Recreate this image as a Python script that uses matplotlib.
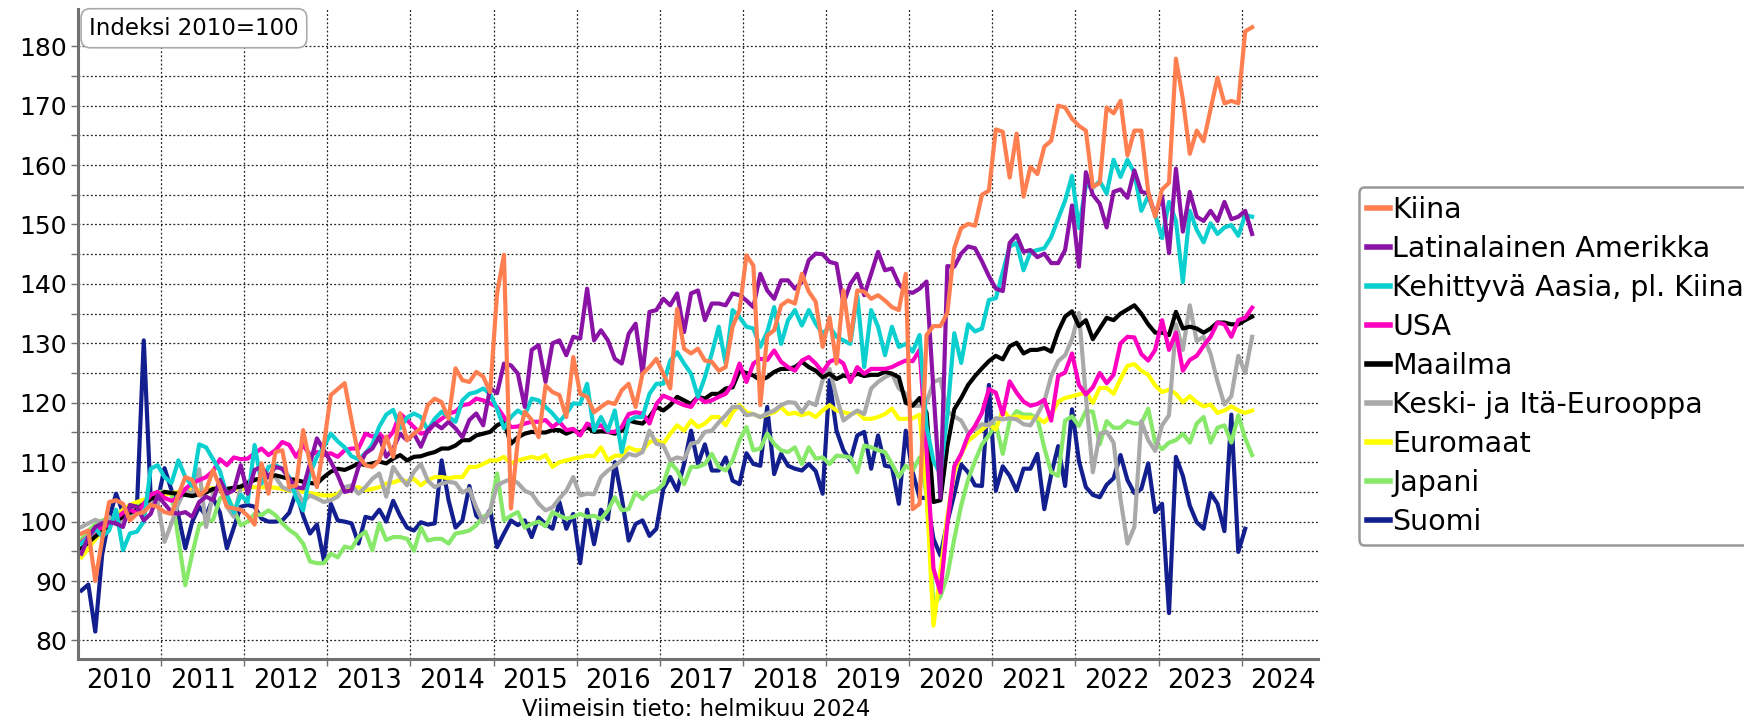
import numpy as np
import matplotlib.pyplot as plt
from matplotlib.lines import Line2D

# monthly index values, 2010-01 .. 2024-02 (Suomi ends 2024-01)
years = list(range(2010, 2025))

kiina = [98, 98.5, 90, 97, 103.3, 103.6, 103, 100.2, 101.3, 101.6, 102.8, 102.5,
         101.6, 101.3, 104.5, 107.5, 107, 104.4, 105.3, 108.7, 105.8, 102.5, 102.2, 102,
         101, 99.5, 109.8, 104.7, 111.7, 112, 105.8, 106.1, 115.4, 109.8, 105.8, 113,
         121.3, 122.3, 123.3, 117, 111, 109.5, 109.2, 110.3, 114.3, 110.9, 118.2, 113.7,
         114.8, 115.7, 119.6, 120.7, 120.1, 117.3, 125.8, 123.8, 123.5, 125.2, 124.4, 121.8,
         138.4, 144.9, 102.2, 113.7, 118.5, 117.1, 114.2, 122.9, 121.8, 121.3, 117.6, 127.7,
         121.5, 121, 118.4, 119.3, 120.1, 119.8, 122.1, 123.2, 119.3, 124.9, 126, 127.4,
         124.9, 122.4, 135.8, 129.1, 128.3, 129.1, 127.1, 126.9, 125.4, 126, 132.8, 135.6,
         144.8, 143.1, 119.6, 131.3, 132.2, 136.4, 137.2, 136.7, 141.7, 138.7, 137, 129.4,
         134.4, 126.6, 138.9, 130.5, 138.9, 138.7, 137.5, 138.1, 137.2, 136.1, 135.6, 141.7,
         102.1, 103, 131.4, 132.9, 132.9, 135.1, 146, 149.4, 150.1, 149.8, 155, 155.7,
         166, 165.6, 157.9, 165.3, 154.7, 159.7, 158.5, 163.1, 164.1, 170, 169.7, 167.8,
         166.6, 165.8, 156.3, 157, 169.7, 168.7, 170.8, 161.6, 165.8, 165.8, 155.5, 151.3,
         155.9, 157, 177.9, 171.1, 161.9, 165.8, 164, 169.4, 174.7, 170.4, 170.8, 170.4,
         182.5, 183.2]

lat_am = [94.6, 97.4, 99.1, 99.7, 99.9, 99.7, 99.1, 102.8, 102.5, 100.2, 101.3, 104.4,
          103, 101.6, 101.3, 101.6, 100.8, 103.3, 104.2, 103.6, 107, 104.7, 105.3, 109.5,
          104.7, 108.7, 109.2, 107.5, 109.2, 108.9, 107.2, 105.8, 105.6, 109.8, 114, 112,
          110.1, 107.8, 105, 105.3, 109.2, 111.5, 112.3, 114.3, 110.9, 112.3, 114.8, 113.7,
          114.8, 112.6, 115.4, 116.5, 115.7, 116.8, 115.7, 114.2, 117.1, 118.2, 116.2, 122.5,
          121.6, 126.6, 126.3, 124.9, 119.3, 128.9, 129.7, 123.5, 130, 130.5, 128, 131.1,
          130.8, 139.2, 130.5, 132.2, 130.5, 127.4, 126.6, 131.6, 133.3, 124.9, 135.3, 135.6,
          137.5, 136.4, 138.4, 131.9, 138.4, 138.9, 133.9, 136.7, 136.7, 136.4, 138.4, 138.1,
          137.2, 136.1, 141.7, 138.9, 137.5, 140.6, 140.6, 139.2, 140.3, 144, 145.1, 145,
          143.7, 143.4, 136.7, 140, 141.7, 138.1, 141.7, 145.4, 142.3, 142.6, 140, 138.7,
          138.5, 139.2, 140.4, 122, 104, 143, 142.9, 145.1, 146.3, 146, 143.8, 141.3,
          139.2, 138.8, 146.9, 148.2, 145.4, 145.7, 144.5, 145.1, 143.5, 143.5, 145.7, 153.2,
          142.9, 158.8, 155, 153.5, 149.5, 155.5, 155.9, 154.5, 159.1, 155.5, 155.2, 151.6,
          154.8, 145.2, 159.4, 148.8, 155.5, 151.3, 150.6, 152.3, 150.6, 153.8, 150.9, 151.3,
          152.3, 148.4]

aasia = [96.3, 97.4, 98.8, 97.5, 98.5, 102, 95.2, 98, 98.3, 100, 108.9, 109.5,
         107.5, 106.5, 110.3, 107.5, 106, 113, 112.5, 110.5, 108.5, 104.5, 101.5, 104.5,
         103.3, 112.9, 106.4, 109.2, 109.5, 108.9, 107.5, 104, 101.9, 108.1, 110.9, 112.6,
         114.8, 113.5, 112.5, 111, 110.5, 111.5, 113, 116, 118, 118.8, 115.7, 117.5,
         118.2, 117.6, 115.4, 117.3, 118.5, 117.6, 116.8, 120.4, 121.5, 121.8, 122.4, 121.5,
         119, 115.7, 117.6, 118.7, 117.9, 120.7, 120.4, 119.3, 118.2, 116.8, 118.2, 119.9,
         119.8, 123.2, 115.3, 117.6, 115.3, 118.7, 111.7, 117, 117.6, 117.6, 121.5, 123.2,
         123.2, 127.1, 128.5, 126.6, 124.9, 121, 124.3, 128.3, 132.8, 126.6, 135.6, 134.4,
         132.8, 132.5, 129.4, 131.9, 136.1, 129.9, 133.9, 135.6, 133, 135.6, 133.3, 131.6,
         132.8, 131.1, 130.5, 129.9, 138.1, 126, 135.6, 132.8, 128, 132.8, 129.4, 129.9,
         128.6, 131.4, 116, 110.2, 108, 118, 131.7, 126.7, 133.2, 132, 132.5, 137.3,
         137.6, 142, 146.3, 146.9, 142.3, 145.4, 145.7, 146, 147.9, 151, 154, 158.2,
         149.4, 156.6, 156.2, 157.3, 155.2, 160.9, 158, 160.9, 158.7, 152.3, 154.8, 151.6,
         147.7, 153.8, 150.6, 140.3, 152.3, 149.1, 147, 150.2, 148.4, 149.5, 149.9, 148.1,
         151.6, 151.3]

usa = [96.5, 97.5, 98.5, 99, 99.5, 100.5, 101.5, 102, 101.5, 103, 104.5, 105,
       104, 103.5, 104, 105.5, 106.5, 107, 107.5, 108.5, 110.5, 109.5, 110.8, 110.5,
       110.6, 111.5, 112.3, 111.2, 112, 113.4, 112.9, 110.9, 112.9, 111.2, 111.7, 111.2,
       111.5, 110.9, 112, 112.3, 112.3, 114.8, 114.3, 114.8, 113.7, 115.1, 118.2, 117.1,
       115.9, 114.8, 115.1, 116.5, 117.3, 118.2, 118.5, 119.6, 119.8, 120.7, 120.4, 119.9,
       119.3, 117.6, 115.9, 116, 116.5, 116.8, 116.8, 117.1, 115.9, 116.8, 115.4, 115.6,
       114.5, 116.5, 115.9, 116.2, 115.1, 115.1, 115.9, 118.1, 118.4, 118.2, 116.5, 119.8,
       121.2, 120.7, 120.1, 119.6, 119.3, 121, 120.1, 120.4, 121, 121.5, 123.2, 126.6,
       123.5, 126.6, 127.4, 127.2, 128.8, 126.9, 126, 125.4, 127.1, 127.7, 126.6, 125.2,
       126.9, 127.4, 126.6, 123.5, 126, 124.9, 125.7, 125.7, 125.7, 126, 126.6, 127.1,
       127, 128.9, 112, 92.1, 88.1, 99.6, 109.3, 111.4, 114.5, 116.1, 118.3, 122.3,
       121.7, 118, 123.6, 121.7, 120.2, 119.5, 119.8, 120.5, 117, 124.5, 125.1, 128.3,
       123, 121.4, 122.6, 125, 123.3, 124.7, 130, 131.1, 131, 128.2, 127.1, 128.9,
       133.9, 128.9, 131.8, 125.4, 127.2, 127.9, 129.6, 131.1, 133.5, 133.2, 131.1, 133.9,
       134.3, 136]

maailma = [95.5, 96.5, 97.5, 98.5, 99.5, 100.2, 100.8, 101.5, 102, 103, 103.8, 104.3,
           105, 104.8, 104.7, 104.5, 104.3, 104.6, 104.9, 105.5, 105.6, 105.5, 105.7, 105.9,
           106.5, 107, 107.3, 107.5, 107.8, 107.5, 107.2, 107, 106.7, 106.5, 106.4, 107.5,
           108.4, 108.9, 108.7, 109.2, 109.8, 109.5, 109.8, 110.1, 109.8, 110.6, 111.2, 110.3,
           110.9, 111, 111.4, 111.7, 112.3, 112.3, 112.8, 113.7, 113.7, 114.5, 114.8, 115.1,
           116.2, 116.8, 113.1, 114.2, 114.8, 115.1, 115, 115, 115.4, 115.4, 114.8, 115.3,
           115, 115.9, 115.1, 115.2, 115.1, 114.8, 115.3, 117, 116.7, 116.5, 117.6, 119.3,
           118.7, 119.6, 121, 120.4, 119.8, 121, 120.7, 121.5, 121.5, 122.4, 122.6, 125.4,
           125, 124.6, 123.8, 124.3, 125.2, 125.7, 125.7, 126, 126.9, 126, 125.4, 124.3,
           124.9, 124, 124.6, 124.3, 124.9, 124.5, 124.7, 124.7, 125.2, 124.9, 124.3, 120,
           119.5, 120.8, 118.3, 103.3, 103.6, 112.7, 118.9, 120.8, 123, 124.5, 125.8, 127,
           127.9, 127.3, 129.5, 130.1, 128.3, 128.9, 128.9, 129.2, 128.6, 132, 134.5, 135.4,
           132.9, 133.9, 130.7, 132.5, 134.3, 133.9, 135, 135.7, 136.4, 135, 133.2, 131.8,
           131.8, 131.4, 135.3, 132.5, 132.8, 132.5, 131.8, 132.5, 133.5, 133.5, 133.2, 133.2,
           133.9, 134.5]

kie = [99.1, 99.7, 100.3, 99.8, 100.8, 99.5, 100.3, 101.2, 101.5, 102.3, 103.5, 103.3,
       96.6, 99.7, 103, 105.5, 104.5, 108.8, 99.1, 104.7, 106.5, 102.5, 100.8, 105.8,
       106.7, 107.2, 107, 107.5, 107.5, 105.8, 105.3, 105.3, 103.3, 104.4, 103.9, 103.3,
       103.6, 104.2, 105.8, 106.1, 104.7, 105.8, 107.2, 108.1, 104.2, 109.2, 107.5, 106.1,
       108.4, 109.7, 106.9, 105.8, 106.4, 106.7, 106.5, 104.9, 105.5, 102.4, 99.9, 101.9,
       106.1, 106.7, 107.2, 106.5, 105.2, 104.7, 103, 101.9, 102.4, 103.9, 105.2, 107.5,
       104.4, 104.7, 104.6, 107.5, 108.6, 109.4, 110.3, 111.4, 111.1, 111.7, 115.3, 113.1,
       112.8, 110.3, 110.8, 110.5, 113.1, 113.4, 115.1, 115.3, 116.7, 117.9, 119.3, 119.3,
       117.9, 118.1, 117.6, 118.2, 118.7, 119.6, 120.1, 120, 118.4, 120.1, 119.6, 123.8,
       125.7, 121, 117, 117.9, 118.7, 118.1, 122.4, 123.5, 124.3, 124.9, 122.4, 121.5,
       119.5, 119.5, 120, 123.5, 124, 118.6, 117.7, 117, 114.9, 115.5, 116.4, 116.2,
       117.4, 117.2, 117.4, 117.2, 116.4, 116.2, 118, 120.2, 124.5, 127, 128, 130.7,
       135.1, 121, 108.3, 114.8, 115.1, 113.3, 103.8, 96.3, 99.1, 116.9, 113.7, 111.9,
       116.2, 117.9, 133.2, 128.9, 136.4, 130.4, 131.1, 128.2, 123.6, 119.7, 121.1, 127.9,
       125, 131.1]

euromaat = [94, 95.5, 97, 98.5, 100, 101, 102, 102.8, 103.3, 103.7, 104, 104.2,
            104.5, 104.8, 105, 105.3, 105.5, 105.3, 105.5, 105.6, 105.4, 105.5, 105.6, 105.5,
            105.7, 105.8, 105.8, 105.8, 105.7, 105.5, 105.2, 105.4, 105, 104.8, 104.6, 104.4,
            104.4, 104.6, 105.8, 105.6, 105.8, 105.3, 105.5, 105.8, 106.4, 106.6, 107, 106.8,
            107.2, 106.1, 107, 107.5, 107.5, 107.3, 107.5, 107.5, 109.2, 109.2, 109.7, 110.3,
            110.3, 110.9, 109.8, 110.3, 110.6, 110.9, 110.6, 111.2, 109.2, 110, 110.3, 110.6,
            110.8, 111.1, 111, 112.5, 110.3, 111.1, 111.1, 112.5, 112, 112, 113.4, 113.7,
            113.1, 114.8, 116.2, 115.3, 117, 115.9, 116.5, 117.6, 117.6, 116.2, 118.4, 119.6,
            118.4, 118.1, 117.6, 118, 118.4, 119.3, 118.1, 118.3, 117.9, 118.3, 117.6, 118.7,
            119.6, 118.7, 118.4, 118.1, 118.4, 117.3, 117.3, 117.6, 118.1, 119, 117.3, 117.3,
            117.4, 118, 105, 82.5, 91.5, 100.8, 108.3, 111.4, 113.6, 114.5, 115.5, 116.4,
            115.5, 118.9, 117.4, 117.7, 117.5, 117.5, 117.5, 116.7, 118, 120.2, 120.8, 121.1,
            121.4, 121.7, 120, 122.5, 122.5, 121.5, 124, 126.2, 126.5, 125.4, 124.7, 122.9,
            121.8, 122.2, 121.5, 120.1, 121.1, 120.1, 119.4, 119.7, 118.3, 118.7, 119.4, 118.7,
            118.3, 118.7]

japani = [97, 98.5, 99.5, 100.2, 100.5, 100.2, 100, 101, 102.5, 103.5, 104.5, 105,
          105, 104.8, 97, 89.3, 94.6, 99.4, 100, 100.3, 103.9, 104.5, 102, 99.4,
          100, 101.3, 101.1, 101.9, 101.1, 99.7, 98.6, 97.8, 96.3, 93.3, 93, 93,
          94.6, 94, 95.8, 95.5, 97.4, 98.3, 95.2, 99.7, 96.9, 97.4, 97.4, 97.1,
          95.1, 99, 96.8, 97.1, 97.1, 96.3, 98, 98.2, 98.5, 99.4, 100.8, 101.5,
          108.1, 100.2, 101, 101.6, 99, 99.6, 100, 99.2, 101.6, 101, 100.5, 100.8,
          101.3, 100.8, 101, 100.4, 101.9, 104.1, 101.9, 102.1, 104.9, 103.8, 104.9, 105.2,
          106.3, 110, 108.6, 106.3, 109.2, 109.2, 109.7, 111.4, 109.2, 108.6, 110.3, 113.7,
          115.9, 112, 112.3, 114.8, 113.1, 112, 111.7, 112.5, 109.7, 112.5, 110.6, 110.8,
          109.7, 111.1, 111, 110.8, 108.3, 112.8, 112.5, 112, 111.7, 109.7, 107.5, 109.4,
          108.6, 110.8, 104.6, 85.9, 87.4, 90.9, 97.1, 102.7, 107.1, 110.2, 113, 114.5,
          116.4, 111.4, 117, 118.6, 118, 118, 117.4, 112.4, 108.3, 107.7, 117, 117.7,
          116.1, 118.6, 118.5, 113, 116.9, 115.8, 115.8, 116.9, 116.5, 116.5, 119, 113.3,
          112.2, 113.3, 113.7, 114.8, 113.3, 116.5, 117.6, 113.3, 115.8, 116.2, 113.3, 117.9,
          114, 111.2]

suomi = [88.4, 89.4, 81.5, 94.5, 100.5, 104.7, 101.5, 102.5, 102, 130.5, 104, 103.5,
         109, 105.3, 101, 95.5, 100, 102.5, 101, 104, 101.5, 95.5, 99, 102.5,
         102.8, 102.5, 100.5, 100, 100, 100.2, 101.5, 105, 101, 98, 99.5, 93.5,
         103, 100.2, 100, 99.7, 96.3, 100.8, 100.5, 102, 100, 103.5, 101, 99,
         98.5, 99.9, 99.5, 99.7, 110.3, 103.6, 99, 100.2, 106, 101, 100, 102,
         95.7, 98, 100.2, 99.4, 100.2, 97.4, 100.7, 99.6, 98.8, 103.3, 98.8, 101.3,
         93, 102, 96.2, 102, 100.4, 110, 104, 96.8, 99.6, 100.2, 97.6, 98.8,
         105.5, 107.5, 105.2, 109.7, 115.3, 109.7, 113, 108.6, 108.6, 110.8, 106.9, 106.3,
         111.5, 109.7, 109.4, 119.3, 108, 111.4, 109.4, 108.9, 108.6, 109.7, 108.5, 104.7,
         123.8, 115.3, 112, 110.3, 114.5, 115.1, 108.9, 114.5, 109.4, 109.2, 103, 115.3,
         108.3, 104, 104, 97.1, 94.3, 99.9, 104.6, 109.6, 108.3, 106.1, 106, 123,
         105.2, 109.3, 107.7, 105.2, 108.9, 108.9, 111.4, 102.1, 108, 112.7, 106, 118.9,
         110.2, 105.8, 104.5, 104.1, 106.2, 107.3, 111.2, 107, 104.8, 105.5, 109.8, 101.6,
         103, 84.6, 110.9, 107.7, 102.7, 99.9, 98.8, 104.8, 103, 98.4, 118, 94.9,
         98.8]

labels = ['Kiina', 'Latinalainen Amerikka', 'Kehittyvä Aasia, pl. Kiina', 'USA', 'Maailma',
          'Keski- ja Itä-Eurooppa', 'Euromaat', 'Japani', 'Suomi']
series = [kiina, lat_am, aasia, usa, maailma, kie, euromaat, japani, suomi]
colors = ['#ff7f50', '#8a13a6', '#0ccfd0', '#ff00c0', 'black',
          '#a9a9a9', '#ffff00', '#87e86a', '#131f8e']

fig = plt.figure(figsize=(17.44, 7.22), dpi=100)
ax = fig.add_axes([0.0447, 0.0866, 0.711, 0.9004])

# drawn bottom-up so that Kiina ends on top
for i in reversed(range(len(series))):
    vals = series[i]
    x = np.arange(len(vals)) + 0.5
    ax.plot(x, vals, color=colors[i], lw=3.0)

ax.set_xlim(0, 179)
ax.set_ylim(76.8, 186.2)

ax.set_yticks(np.arange(80, 181, 10))
ax.set_yticks(np.arange(85, 180, 10), minor=True)
ax.set_xticks([12 * k for k in range(1, 15)])
ax.set_xticklabels([])
ax.set_xticks([12 * k + 6 for k in range(len(years))], minor=True)
ax.set_xticklabels([str(y) for y in years], minor=True)

ax.tick_params(axis='y', which='both', length=5, width=1, color='#707070',
               labelsize=18, pad=3)
ax.tick_params(axis='x', which='major', length=5, width=1, color='#707070')
ax.tick_params(axis='x', which='minor', length=0, labelsize=18.5, pad=6)

gs = dict(color='#222222', lw=0.9, ls=(0, (1.5, 1.8)))
ax.grid(True, axis='y', which='both', **gs)
ax.grid(True, axis='x', which='major', **gs)
ax.set_axisbelow(True)

for s in ['top', 'right']:
    ax.spines[s].set_visible(False)
for s in ['left', 'bottom']:
    ax.spines[s].set_color('#707070')
    ax.spines[s].set_linewidth(2.2)

ax.text(0.009, 0.971, 'Indeksi 2010=100', transform=ax.transAxes, fontsize=16.5,
        ha='left', va='center',
        bbox=dict(boxstyle='round,pad=0.35,rounding_size=0.4', fc='white', ec='#aaaaaa', lw=1.2))

handles = [Line2D([0], [0], color=c, lw=4) for c in colors]
leg = fig.legend(handles, labels, loc='upper left', bbox_to_anchor=(0.779, 0.741),
                 borderaxespad=0, fontsize=20.5, handlelength=0.8, handletextpad=0.08,
                 borderpad=0.3, labelspacing=0.39, fancybox=True, framealpha=1,
                 edgecolor='#999999')
leg.get_frame().set_linewidth(1.8)

fig.text(0.399, 0.018, 'Viimeisin tieto: helmikuu 2024', ha='center', va='center', fontsize=16.5)

fig.savefig('out.png', dpi=100)
